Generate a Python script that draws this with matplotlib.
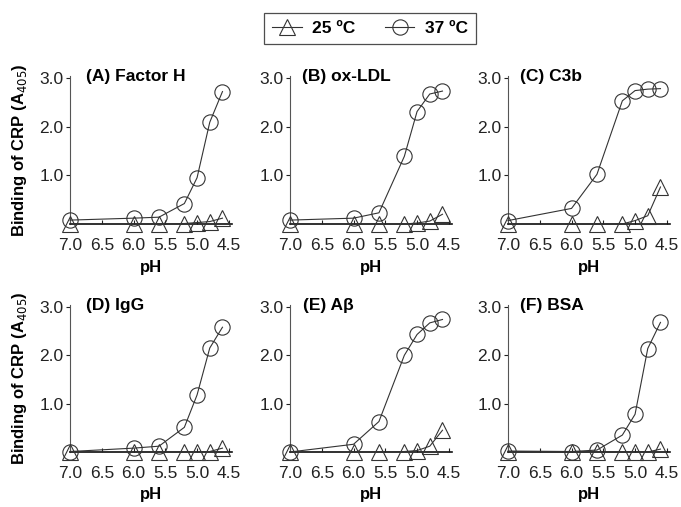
import matplotlib
matplotlib.use("Agg")
import matplotlib.pyplot as plt
from matplotlib.lines import Line2D

plt.rcParams['font.family'] = ['Liberation Sans', 'DejaVu Sans']

ph = [7.0, 6.0, 5.6, 5.2, 5.0, 4.8, 4.6]
xticks = [7.0, 6.5, 6.0, 5.5, 5.0, 4.5]
xticklabels = ["7.0", "6.5", "6.0", "5.5", "5.0", "4.5"]
yticks = [1.0, 2.0, 3.0]
yticklabels = ["1.0", "2.0", "3.0"]

titles = ["(A) Factor H", "(B) ox-LDL", "(C) C3b", "(D) IgG", "(E) A\u03b2", "(F) BSA"]

t25_A = [0.00, 0.00, 0.00, 0.01, 0.03, 0.05, 0.12]
t37_A = [0.08, 0.12, 0.14, 0.42, 0.95, 2.09, 2.72]
t25_B = [0.00, 0.00, 0.00, 0.00, 0.02, 0.06, 0.20]
t37_B = [0.08, 0.12, 0.23, 1.39, 2.31, 2.67, 2.73]
t25_C = [0.00, 0.00, 0.00, 0.00, 0.07, 0.17, 0.76]
t37_C = [0.07, 0.32, 1.02, 2.53, 2.74, 2.77, 2.78]
t25_D = [0.00, 0.00, 0.00, 0.00, 0.00, 0.01, 0.08]
t37_D = [0.01, 0.08, 0.12, 0.51, 1.18, 2.15, 2.58]
t25_E = [0.00, 0.00, 0.00, 0.01, 0.03, 0.12, 0.45]
t37_E = [0.00, 0.16, 0.63, 2.00, 2.43, 2.67, 2.74]
t25_F = [0.00, 0.00, 0.00, 0.00, 0.00, 0.00, 0.06]
t37_F = [0.02, 0.01, 0.04, 0.35, 0.78, 2.14, 2.68]

series25 = [t25_A, t25_B, t25_C, t25_D, t25_E, t25_F]
series37 = [t37_A, t37_B, t37_C, t37_D, t37_E, t37_F]

W, H = 681, 507
fig = plt.figure(figsize=(W / 100, H / 100), dpi=100)

lefts = [70, 290, 508]
ax_w = 162
rows = [(75.5, 224), (304.5, 452)]
title_dx = [0.10, 0.075, 0.075, 0.10, 0.08, 0.075]

lc = '#333333'
fs = 12.5
for i in range(6):
    r, c = divmod(i, 3)
    top, bot = rows[r]
    ax = fig.add_axes([lefts[c] / W, (H - bot) / H, ax_w / W, (bot - top) / H])
    ax.plot(ph, series25[i], color=lc, lw=0.8, marker='^', ms=11, mfc='none',
            mec=lc, mew=0.8, clip_on=False, zorder=3)
    ax.plot(ph, series37[i], color=lc, lw=0.8, marker='o', ms=11, mfc='none',
            mec=lc, mew=0.8, clip_on=False, zorder=3)
    ax.set_xlim(7.0, 4.45)
    ax.set_ylim(0, 3.05)
    ax.set_xticks(xticks)
    ax.set_xticklabels(xticklabels)
    ax.set_yticks(yticks)
    ax.set_yticklabels(yticklabels)
    for s in ['top', 'right']:
        ax.spines[s].set_visible(False)
    ax.spines['left'].set_color('#555555')
    ax.spines['left'].set_linewidth(0.8)
    ax.spines['bottom'].set_color('#111111')
    ax.spines['bottom'].set_linewidth(1.2)
    ax.tick_params(axis='x', direction='in', length=3, width=0.8, pad=10,
                   labelsize=fs, colors='#222222')
    ax.tick_params(axis='y', direction='out', length=3, width=0.8, pad=1.5,
                   labelsize=fs, colors='#222222')
    ax.text(title_dx[i], 0.99, titles[i], transform=ax.transAxes, ha='left',
            va='center', fontsize=fs, fontweight='bold')
    ax.text(0.5, -0.29, "pH", transform=ax.transAxes, ha='center', va='center',
            fontsize=12, fontweight='bold')

for top, bot in rows:
    fig.text(20 / W, 1 - ((top + bot) / 2) / H, "Binding of CRP (A$_{405}$)",
             rotation=90, ha='center', va='center', fontsize=12, fontweight='bold')

handles = [
    Line2D([], [], color=lc, lw=0.8, marker='^', ms=11, mfc='none', mec=lc, mew=0.8),
    Line2D([], [], color=lc, lw=0.8, marker='o', ms=11, mfc='none', mec=lc, mew=0.8),
]
leg = fig.legend(handles, ["25 \u00baC", "37 \u00baC"], ncol=2, loc='center',
                 bbox_to_anchor=(370 / W, 1 - 28.5 / H), frameon=True, fancybox=False,
                 edgecolor='#222222', prop={'weight': 'bold', 'size': fs},
                 handlelength=1.7, handletextpad=0.6, columnspacing=1.7,
                 borderpad=0.45, borderaxespad=0)
leg.get_frame().set_linewidth(0.9)

fig.savefig("out.png", dpi=100)
